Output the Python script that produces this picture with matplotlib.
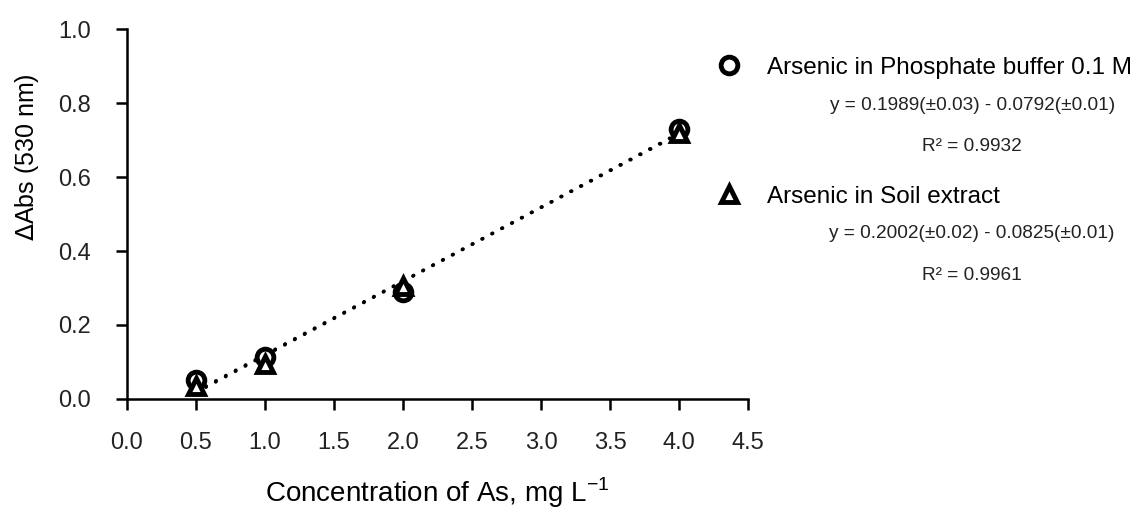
import numpy as np
import matplotlib.pyplot as plt
from matplotlib.lines import Line2D

plt.rcParams['font.family'] = ['Liberation Sans', 'DejaVu Sans']

# Concentration of As (mg/L) and measured absorbance change
conc = [0.5, 1.0, 2.0, 4.0]
abs_buffer = [0.052, 0.114, 0.290, 0.731]
abs_soil = [0.036, 0.094, 0.305, 0.718]

# Calibration fits (slope, intercept) as reported
fit_buffer = (0.1989, -0.0792)
fit_soil = (0.2002, -0.0825)

labels = ['Arsenic in Phosphate buffer 0.1 M', 'Arsenic in Soil extract']
equations = ['y = 0.1989(\u00b10.03) - 0.0792(\u00b10.01)',
             'y = 0.2002(\u00b10.02) - 0.0825(\u00b10.01)']
r2_text = ['R\u00b2 = 0.9932', 'R\u00b2 = 0.9961']
markers = ['o', '^']

fig = plt.figure(figsize=(11.41, 5.11), dpi=100)
ax = fig.add_axes([0.1113, 0.2192, 0.5443, 0.7240])

x_line = np.array([conc[0], conc[-1]])
for slope, icpt in (fit_buffer, fit_soil):
    ax.plot(x_line, slope * x_line + icpt, color='black', linestyle=(0, (0.1, 3.0)),
            linewidth=2.6, dash_capstyle='round', zorder=2)

ms = 12
mew = 3.5
for yvals, mk, z in ((abs_buffer, 'o', 3), (abs_soil, '^', 4)):
    ax.plot(conc, yvals, linestyle='none', marker=mk, markersize=ms,
            markerfacecolor='white', markeredgecolor='black', markeredgewidth=mew, zorder=z)

ax.set_xlim(0, 4.5)
ax.set_ylim(0, 1.0)
xt = np.arange(0, 4.51, 0.5)
yt = np.arange(0, 1.01, 0.2)
ax.set_xticks(xt)
ax.set_yticks(yt)
ax.set_xticklabels([f'{v:.1f}' for v in xt])
ax.set_yticklabels([f'{v:.1f}' for v in yt])
ax.tick_params(direction='out', length=8, width=1.8, labelsize=17, colors='black')
ax.tick_params(axis='x', pad=16)
ax.tick_params(axis='y', pad=18)
for lab in ax.get_xticklabels() + ax.get_yticklabels():
    lab.set_color('#222222')
for side in ('top', 'right'):
    ax.spines[side].set_visible(False)
for side in ('left', 'bottom'):
    ax.spines[side].set_linewidth(1.8)

ax.set_xlabel('Concentration of As, mg L$^{\\mathregular{-1}}$', fontsize=20, va='center')
ax.xaxis.set_label_coords(0.5, -0.253)
ax.set_ylabel('$\\Delta$Abs (530 nm)', fontsize=18, va='center')
ax.yaxis.set_label_coords(-0.161, 0.653)

# legend entries, one per series, each followed by its fit equation
row_y = [0.867, 0.615]
for i in range(2):
    h = Line2D([], [], linestyle='none', marker=markers[i], markersize=ms,
               markerfacecolor='white', markeredgecolor='black', markeredgewidth=mew)
    fig.legend([h], [labels[i]], loc='center left', bbox_to_anchor=(0.6261, row_y[i]),
               frameon=False, fontsize=17.5, handletextpad=0.965, handlelength=1.2,
               borderpad=0, borderaxespad=0)
    fig.text(0.852, row_y[i] - 0.0725, equations[i], ha='center', va='center',
             fontsize=13.7, color='#222222')
    fig.text(0.852, row_y[i] - 0.1545, r2_text[i], ha='center', va='center',
             fontsize=13.7, color='#222222')

fig.savefig('out.png', dpi=100)
